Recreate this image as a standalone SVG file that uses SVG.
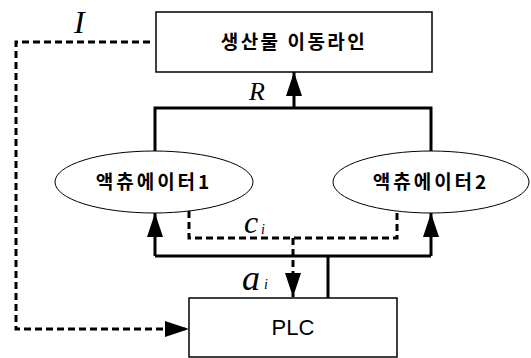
<svg xmlns="http://www.w3.org/2000/svg" width="531" height="358" viewBox="0 0 531 358">
<defs>
<marker id="ah" viewBox="0 0 24 16" refX="24" refY="8" markerWidth="24" markerHeight="16" markerUnits="userSpaceOnUse" orient="auto">
<path d="M0,0 L24,8 L0,16 z" fill="#000"/>
</marker>
<style>
.box{fill:#fff;stroke:#000;stroke-width:1.5}
.ell{fill:#fff;stroke:#000;stroke-width:1}
.kr{font-family:"Noto Sans CJK KR","Noto Sans",sans-serif;font-size:19px;font-weight:bold;text-anchor:middle;fill:#000}
.lat{font-family:"Liberation Sans",Arial,sans-serif;font-size:22px;text-anchor:middle;fill:#000}
.math{font-family:"Liberation Serif","Times New Roman",serif;font-style:italic;fill:#000}
.solid{fill:none;stroke:#000;stroke-width:3}
.dash{fill:none;stroke:#000;stroke-width:3;stroke-dasharray:7,4}
</style>
</defs>
<rect width="531" height="358" fill="#fff"/>
<g id="connectors">
<path class="solid" d="M155,151 V108 H431 V151"/>
<path class="solid" d="M294,108 V72" marker-end="url(#ah)"/>
<path class="solid" d="M155,256 H431"/>
<path class="solid" d="M155,256 V213" marker-end="url(#ah)"/>
<path class="solid" d="M431,256 V213" marker-end="url(#ah)"/>
<path class="solid" d="M328,256 V298"/>
<path class="dash" d="M189,211 V238 H397 V211"/>
<path class="dash" d="M293,238 V297" marker-end="url(#ah)"/>
<path class="dash" d="M150,42 H16 V329 H189" marker-end="url(#ah)"/>
<text class="math" x="74" y="33" font-size="32">I</text>
<text class="math" x="249" y="100" font-size="26">R</text>
<text class="math" x="244" y="233" font-size="32">c</text>
<text class="math" x="261" y="234" font-size="14">i</text>
<text class="math" x="242" y="290" font-size="36">a</text>
<text class="math" x="264" y="289" font-size="14">i</text>
</g>
<g id="line">
<rect class="box" x="156" y="12" width="276" height="60"/>
<text class="kr" x="294" y="49" font-size="20" letter-spacing="2.5">생산물 이동라인</text>
</g>
<g id="act1">
<ellipse class="ell" cx="154" cy="182" rx="99" ry="31"/>
<text class="kr" x="154" y="189" letter-spacing="3">액츄에이터1</text>
</g>
<g id="act2">
<ellipse class="ell" cx="431" cy="182" rx="98" ry="31"/>
<text class="kr" x="431" y="189" letter-spacing="3">액츄에이터2</text>
</g>
<g id="plc">
<rect class="box" x="189" y="298" width="208" height="59"/>
<text class="lat" x="293" y="335">PLC</text>
</g>
</svg>
